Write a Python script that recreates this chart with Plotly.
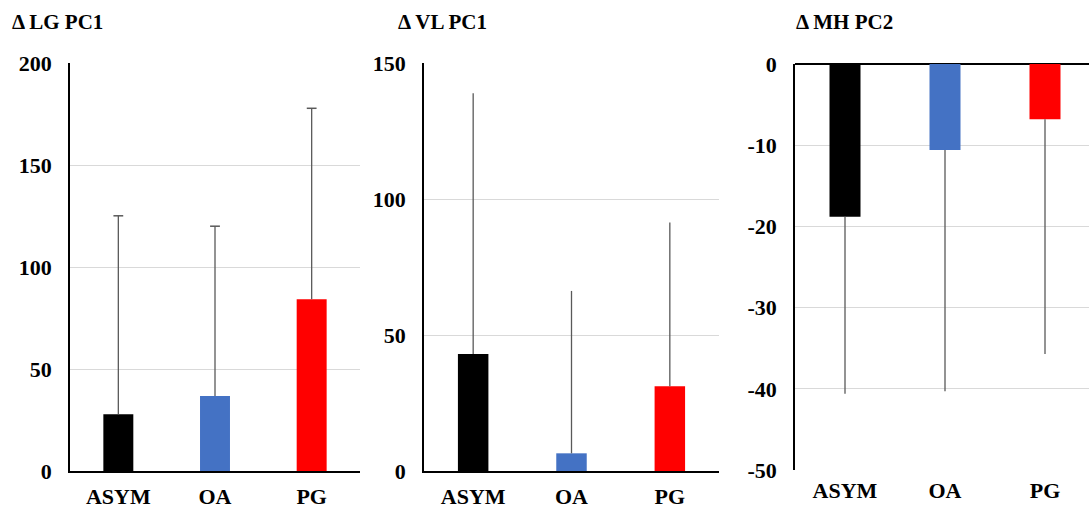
import plotly.graph_objects as go

# Groups and colours shared by all three panels
groups = ["ASYM", "OA", "PG"]
colors = ["#000000", "#4472C4", "#FF0000"]

# Δ LG PC1
lg_mean = [27.8, 36.8, 84.2]
lg_sd = [97.3, 83.2, 93.6]

# Δ VL PC1
vl_mean = [43.0, 6.5, 31.2]
vl_sd = [95.9, 59.7, 60.2]

# Δ MH PC2
mh_mean = [-18.8, -10.6, -6.8]
mh_sd = [21.8, 29.7, 28.9]

titles = ["Δ LG PC1", "Δ VL PC1", "Δ MH PC2"]
y_ticks = [[0, 50, 100, 150, 200], [0, 50, 100, 150], [-50, -40, -30, -20, -10, 0]]
y_ticktext = [[f"<b>{v}</b>" for v in t] for t in y_ticks]
x_ticktext = [f"<b>{g}</b>" for g in groups]

W, H = 1089, 510
x_domains = [[70 / W, 360 / W], [424 / W, 719 / W], [795 / W, 1.0]]
y_domains = [[(H - 471) / H, (H - 63) / H],
             [(H - 471) / H, (H - 63) / H],
             [(H - 470) / H, (H - 64) / H]]
x_ranges = [[-0.5, 2.5], [-0.5, 2.5], [-0.5, 2.44]]
title_x = [10, 396, 794]
capped = [True, False, False]

font_family = "Liberation Serif"
err_color = "#595959"

fig = go.Figure()

panels = [(lg_mean, lg_sd), (vl_mean, vl_sd), (mh_mean, mh_sd)]
for i, (means, sds) in enumerate(panels):
    xa = "x" if i == 0 else f"x{i + 1}"
    ya = "y" if i == 0 else f"y{i + 1}"
    negative = means[0] < 0
    if negative:
        err = dict(type="data", symmetric=False, array=[0] * len(sds),
                   arrayminus=sds, color=err_color, thickness=1.3, width=0)
    else:
        err = dict(type="data", symmetric=False, array=sds,
                   arrayminus=[0] * len(sds), color=err_color, thickness=1.3,
                   width=0)
    fig.add_trace(go.Bar(
        x=groups, y=means, marker=dict(color=colors, line=dict(width=0)),
        width=0.31, error_y=err, xaxis=xa, yaxis=ya, showlegend=False,
    ))
    if capped[i]:
        # short cap at the end of each whisker
        ends = [m + s for m, s in zip(means, sds)]
        fig.add_trace(go.Scatter(
            x=groups, y=ends, mode="markers", xaxis=xa, yaxis=ya,
            marker=dict(symbol="line-ew", size=7,
                        line=dict(color=err_color, width=1.5)),
            showlegend=False, hoverinfo="skip",
        ))

    xkey = "xaxis" if i == 0 else f"xaxis{i + 1}"
    ykey = "yaxis" if i == 0 else f"yaxis{i + 1}"
    fig.update_layout({
        xkey: dict(
            domain=x_domains[i], anchor=ya, range=x_ranges[i],
            tickmode="array", tickvals=groups, ticktext=x_ticktext,
            showgrid=False, ticks="", automargin=False,
            showline=not negative, linecolor="#000000", linewidth=1.5,
            tickfont=dict(family=font_family, size=22, color="#000000"),
            ticklabelstandoff=5,
        ),
        ykey: dict(
            domain=y_domains[i], anchor=xa,
            range=[min(y_ticks[i]), max(y_ticks[i])],
            tickmode="array", tickvals=y_ticks[i], ticktext=y_ticktext[i],
            showgrid=True, gridcolor="#D9D9D9", gridwidth=1.3,
            showline=True, linecolor="#000000", linewidth=1.5,
            zeroline=negative, zerolinecolor="#000000", zerolinewidth=1.5,
            ticks="", automargin=False,
            tickfont=dict(family=font_family, size=22, color="#000000"),
            ticklabelstandoff=12,
        ),
    })
    fig.add_annotation(
        text=f"<b>{titles[i]}</b>", xref="paper", yref="paper",
        x=title_x[i] / W, y=(H - 22) / H, xanchor="left", yanchor="middle",
        showarrow=False,
        font=dict(family=font_family, size=21, color="#000000"),
    )

fig.update_layout(
    width=W, height=H,
    margin=dict(l=0, r=0, t=0, b=0),
    paper_bgcolor="#FFFFFF", plot_bgcolor="#FFFFFF",
)

fig.write_html("out.html")
